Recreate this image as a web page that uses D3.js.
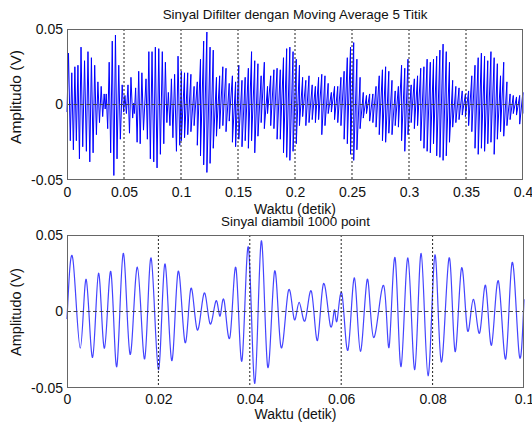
<!DOCTYPE html>
<html><head><meta charset="utf-8">
<script src="https://cdn.jsdelivr.net/npm/d3@7/dist/d3.min.js"></script>
<style>
body{margin:0;background:#fff}
svg{display:block;font-family:"Liberation Sans",Arial,Helvetica,sans-serif}
</style>
</head><body>
<svg id="chart" width="532" height="427"></svg>
<script>
// ---- data ----
// raw signal extrema, 0 - 0.1 s (time in s, amplitude in V)
const sampleTime = [0.0000,0.0013,0.0029,0.0042,0.0056,0.0069,0.0082,0.0096,0.0109,0.0123,0.0138,0.0154,0.0170,0.0184,0.0200,0.0214,0.0229,0.0243,0.0258,0.0271,0.0285,0.0300,0.0313,0.0326,0.0335,0.0344,0.0357,0.0370,0.0383,0.0397,0.0411,0.0425,0.0439,0.0454,0.0468,0.0484,0.0497,0.0508,0.0521,0.0535,0.0548,0.0561,0.0576,0.0585,0.0591,0.0602,0.0615,0.0629,0.0642,0.0657,0.0671,0.0693,0.0705,0.0718,0.0731,0.0746,0.0761,0.0775,0.0790,0.0805,0.0819,0.0836,0.0849,0.0863,0.0876,0.0889,0.0903,0.0916,0.0929,0.0944,0.0960,0.0974,0.0989,0.1000];
const sampleAmp = [-0.005,0.034,-0.024,0.021,-0.030,0.025,-0.024,0.026,-0.036,0.038,-0.028,0.029,-0.031,0.035,-0.038,0.031,-0.032,0.026,-0.020,0.015,-0.012,0.012,-0.008,0.007,-0.003,0.007,-0.016,0.028,-0.032,0.042,-0.047,0.046,-0.036,0.026,-0.023,0.013,-0.005,0.006,-0.006,0.013,-0.019,0.018,-0.009,0.001,-0.006,0.011,-0.025,0.022,-0.026,0.021,-0.017,0.017,-0.023,0.035,-0.036,0.035,-0.038,0.038,-0.042,0.037,-0.033,0.035,-0.026,0.028,-0.012,0.008,-0.014,0.017,-0.022,0.020,-0.031,0.032,-0.027,0.008];

// filtered signal, 0.1 - 0.4 s: one stroke per oscillation (time, peak, trough)
const filtTime = [0.1003,0.1031,0.1059,0.1087,0.1115,0.1143,0.1171,0.1199,0.1227,0.1255,0.1283,0.1311,0.1339,0.1367,0.1395,0.1423,0.1451,0.1479,0.1507,0.1535,0.1563,0.1591,0.1619,0.1647,0.1675,0.1703,0.1731,0.1759,0.1787,0.1815,0.1843,0.1871,0.1899,0.1927,0.1955,0.1983,
0.2011,0.2039,0.2067,0.2095,0.2123,0.2151,0.2179,0.2207,0.2235,0.2263,0.2291,0.2319,0.2347,0.2375,0.2403,0.2431,0.2459,0.2487,0.2515,0.2543,0.2571,0.2599,0.2627,0.2655,0.2683,0.2711,0.2739,0.2767,0.2795,0.2823,0.2851,0.2879,0.2907,0.2935,0.2963,0.2991,
0.3019,0.3047,0.3075,0.3103,0.3131,0.3159,0.3187,0.3215,0.3243,0.3271,0.3299,0.3327,0.3355,0.3383,0.3411,0.3439,0.3467,0.3495,0.3523,0.3551,0.3579,0.3607,0.3635,0.3663,0.3691,0.3719,0.3747,0.3775,0.3803,0.3831,0.3859,0.3887,0.3915,0.3943,0.3971,0.3999];
const filtPeak = [0.022,0.021,0.021,0.020,0.012,0.015,0.030,0.042,0.048,0.038,0.036,0.018,0.019,0.025,0.024,0.014,0.019,0.015,0.026,0.016,0.018,0.024,0.035,0.029,0.027,0.019,0.028,0.012,0.019,0.023,0.024,0.023,0.031,0.037,0.038,0.035,
0.030,0.026,0.018,0.016,0.019,0.013,0.012,0.018,0.020,0.019,0.014,0.008,0.012,0.012,0.018,0.022,0.031,0.038,0.041,0.030,0.018,0.008,0.006,0.007,0.007,0.012,0.019,0.023,0.025,0.022,0.016,0.009,0.012,0.026,0.024,0.030,
0.013,0.017,0.019,0.024,0.025,0.030,0.028,0.030,0.032,0.036,0.040,0.035,0.028,0.016,0.012,0.011,0.009,0.007,0.009,0.019,0.026,0.031,0.034,0.032,0.029,0.035,0.031,0.027,0.019,0.028,0.015,0.007,0.006,0.005,0.006,0.008];
const filtTrough = [-0.024,-0.022,-0.020,-0.018,-0.014,-0.027,-0.034,-0.040,-0.045,-0.039,-0.029,-0.021,-0.016,-0.014,-0.018,-0.011,-0.025,-0.028,-0.023,-0.028,-0.024,-0.029,-0.024,-0.032,-0.021,-0.012,-0.016,-0.006,-0.014,-0.016,-0.023,-0.023,-0.032,-0.035,-0.037,-0.031,
-0.026,-0.014,-0.008,-0.014,-0.012,-0.010,-0.012,-0.010,-0.020,-0.014,-0.006,-0.005,-0.010,-0.012,-0.014,-0.023,-0.026,-0.033,-0.037,-0.030,-0.016,-0.009,-0.006,-0.011,-0.012,-0.015,-0.020,-0.024,-0.025,-0.019,-0.020,-0.014,-0.015,-0.024,-0.031,-0.020,
-0.012,-0.016,-0.014,-0.024,-0.029,-0.031,-0.032,-0.026,-0.034,-0.035,-0.037,-0.034,-0.025,-0.015,-0.012,-0.010,-0.007,-0.008,-0.014,-0.018,-0.029,-0.033,-0.029,-0.031,-0.026,-0.025,-0.033,-0.023,-0.018,-0.021,-0.014,-0.010,-0.006,-0.007,-0.013,-0.006];

const topTicksX = [0,0.05,0.1,0.15,0.2,0.25,0.3,0.35,0.4];
const topTickLabels = ["0","0.05","0.1","0.15","0.2","0.25","0.3","0.35","0.4"];
const botTicksX = [0,0.02,0.04,0.06,0.08,0.1];
const botTickLabels = ["0","0.02","0.04","0.06","0.08","0.1"];
const ticksY = [-0.05,0,0.05];
const tickLabelsY = ["-0.05","0","0.05"];
const titles = ["Sinyal Difilter dengan Moving Average 5 Titik","Sinyal diambil 1000 point"];
const xLabel = "Waktu (detik)";
const yLabel = "Amplitudo (V)";

// ---- build series ----
const rawSeries = sampleTime.map((t,i)=>[t, sampleAmp[i]]);
const filtSeries = [];
filtTime.forEach((t,i)=>{ filtSeries.push([t, filtPeak[i]]); filtSeries.push([t, filtTrough[i]]); });
const topSeries = rawSeries.concat(filtSeries);

const svg = d3.select("#chart");
svg.append("rect").attr("width",532).attr("height",427).attr("fill","#fff");

function panel(cfg){
  const x = d3.scaleLinear().domain(cfg.xDomain).range([cfg.left, cfg.right]);
  const y = d3.scaleLinear().domain([-0.05,0.05]).range([cfg.bottom, cfg.top]);
  const g = svg.append("g");
  g.append("rect").attr("x",cfg.left).attr("y",cfg.top)
    .attr("width",cfg.right-cfg.left).attr("height",cfg.bottom-cfg.top).attr("fill","#fff");

  const line = d3.line().x(d=>x(d[0])).y(d=>y(d[1])).curve(cfg.curve);
  g.append("path").datum(cfg.data).attr("d",line)
    .attr("fill","none").attr("stroke",cfg.color).attr("stroke-width",cfg.width)
    .attr("stroke-linejoin","round");

  // grid
  g.selectAll(".vg").data(cfg.xTicks.slice(1,-1)).join("line")
    .attr("x1",d=>x(d)).attr("x2",d=>x(d)).attr("y1",cfg.top).attr("y2",cfg.bottom)
    .attr("stroke","#222").attr("stroke-width",1).attr("stroke-dasharray","2,2");
  g.append("line").attr("x1",cfg.left).attr("x2",cfg.right).attr("y1",y(0)).attr("y2",y(0))
    .attr("stroke","#444").attr("stroke-width",1).attr("stroke-dasharray","4,2.5");

  // box
  g.append("rect").attr("x",cfg.left+0.5).attr("y",cfg.top+0.5)
    .attr("width",cfg.right-cfg.left-1).attr("height",cfg.bottom-cfg.top-1)
    .attr("fill","none").attr("stroke","#666").attr("stroke-width",1);

  // axes
  const ax = g.append("g").attr("transform",`translate(0,${cfg.bottom})`)
    .call(d3.axisBottom(x).tickValues(cfg.xTicks).tickFormat((d,i)=>cfg.xLabels[i]).tickSize(0).tickPadding(cfg.xPad));
  const ay = g.append("g").attr("transform",`translate(${cfg.left},0)`)
    .call(d3.axisLeft(y).tickValues(ticksY).tickFormat((d,i)=>tickLabelsY[i]).tickSize(0).tickPadding(4));
  [ax,ay].forEach(a=>{
    a.select(".domain").remove();
    a.selectAll("text").attr("font-size",14).attr("fill","#111").attr("font-family",null);
  });

  const cx = (cfg.left+cfg.right)/2;
  g.append("text").attr("x",cx).attr("y",cfg.titleY).attr("text-anchor","middle")
    .attr("font-size",13.4).attr("fill","#111").text(cfg.title);
  g.append("text").attr("x",cx).attr("y",cfg.xLabelY).attr("text-anchor","middle")
    .attr("font-size",14).attr("fill","#111").text(xLabel);
  g.append("text").attr("transform",`translate(21,${cfg.yLabelC}) rotate(-90)`)
    .attr("text-anchor","middle").attr("font-size",cfg.yLabelSize).attr("fill","#111").text(yLabel);
}

panel({left:67,right:523,top:29,bottom:180,xDomain:[0,0.4],xTicks:topTicksX,xLabels:topTickLabels,
  data:topSeries,color:"#0000ff",width:1,curve:d3.curveLinear,
  title:titles[0],titleY:19,xLabelY:214,xPad:7,yLabelC:97,yLabelSize:15.5});
panel({left:67,right:524,top:235,bottom:388,xDomain:[0,0.1],xTicks:botTicksX,xLabels:botTickLabels,
  data:rawSeries,color:"#4444ff",width:1.2,curve:d3.curveNatural,
  title:titles[1],titleY:226,xLabelY:419,xPad:6,yLabelC:312,yLabelSize:14.5});
</script>
</body></html>
